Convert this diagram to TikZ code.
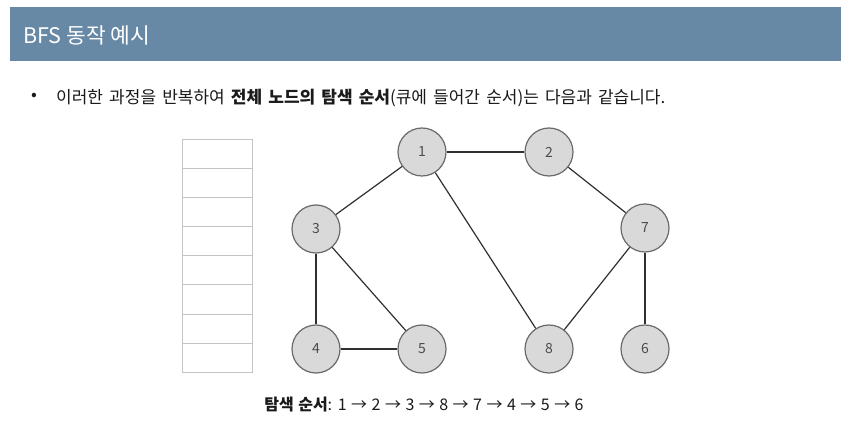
\documentclass[tikz,border=0pt]{standalone}
\usepackage{fontspec}
\setmainfont{Noto Sans CJK KR}
\usetikzlibrary{arrows.meta}
\definecolor{hdr}{HTML}{6789A6}
\definecolor{cellline}{HTML}{C4C4C4}
\definecolor{nodefill}{HTML}{D9D9D9}
\definecolor{nodeline}{HTML}{6A6A6A}
\definecolor{edgecol}{HTML}{303030}
\definecolor{txt}{HTML}{1A1A1A}
\tikzset{
  vtx/.style={circle, draw=nodeline, line width=1.2pt, fill=nodefill, minimum size=48pt, inner sep=0pt, font=\fontsize{14}{16}\selectfont, text=black!70},
  edge/.style={draw=edgecol, line width=1.2pt},
  cell/.style={draw=cellline, line width=1pt, minimum width=70pt, minimum height=29.1pt, inner sep=0pt, anchor=north west},
  bodytext/.style={text=txt, inner sep=0pt},
}
\begin{document}
\begin{tikzpicture}[x=1pt,y=-1pt]
\useasboundingbox (0,0) rectangle (854,427);
\fill[white] (0,0) rectangle (854,427);
% header
\fill[hdr] (10,7) rectangle (841,61);
\node[anchor=west, text=white, font=\fontsize{21.5}{24}\selectfont, inner sep=0pt] (title) at (23,35) {BFS 동작 예시};
% bullet
\node[bodytext, anchor=center, font=\fontsize{17}{20}\selectfont] (bul) at (34,97) {•};
\node[bodytext, anchor=west, font=\fontsize{17}{20}\selectfont] (line) at (56,98) {\spaceskip=0.36em 이러한 과정을 반복하여 \textbf{전체 노드의 탐색 순서}(큐에 들어간 순서)는 다음과 같습니다.};
% queue
\foreach \i in {0,...,7} {
  \node[cell] (q\i) at (182,{139+29.1*\i}) {};
}
% vertices
\node[vtx] (n1) at (422,152) {1};
\node[vtx] (n2) at (549,152) {2};
\node[vtx] (n3) at (316,229) {3};
\node[vtx] (n7) at (645,228) {7};
\node[vtx] (n4) at (316,349) {4};
\node[vtx] (n5) at (422,349) {5};
\node[vtx] (n8) at (549,349) {8};
\node[vtx] (n6) at (645,349) {6};
% edges
\draw[edge] (n1) -- (n2);
\draw[edge] (n1) -- (n3);
\draw[edge] (n1) -- (n8);
\draw[edge] (n2) -- (n7);
\draw[edge] (n3) -- (n4);
\draw[edge] (n3) -- (n5);
\draw[edge] (n4) -- (n5);
\draw[edge] (n7) -- (n8);
\draw[edge] (n7) -- (n6);
% bottom
\node[bodytext, anchor=center, font=\fontsize{16}{18}\selectfont] (order) at (424,405) {\spaceskip=0.28em \textbf{탐색 순서}: 1 → 2 → 3 → 8 → 7 → 4 → 5 → 6};
\end{tikzpicture}
\end{document}
